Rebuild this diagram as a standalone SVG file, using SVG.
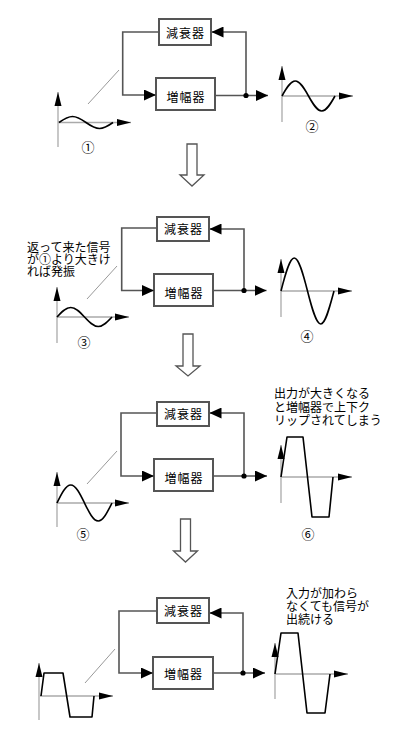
<svg xmlns="http://www.w3.org/2000/svg" width="404" height="746" viewBox="0 0 404 746">
<style>
text{font-family:"Noto Sans CJK JP","Noto Sans CJK SC",sans-serif;font-size:12px;fill:#000}
.box{fill:#fff;stroke:#555;stroke-width:2}
.bl{text-anchor:middle;letter-spacing:1px}
.num{text-anchor:middle;font-size:13px}
.con{fill:none;stroke:#555;stroke-width:1.6}
.ax{fill:none;stroke:#aaa;stroke-width:1.3}
.wave{fill:none;stroke:#000;stroke-width:1.6;stroke-linejoin:round}
.diag{stroke:#999;stroke-width:1}
.down{fill:#fff;stroke:#555;stroke-width:1.3}
.dot{fill:#000}
</style>
<defs>
<marker id="arr" markerUnits="userSpaceOnUse" markerWidth="12" markerHeight="11" refX="12" refY="5.5" orient="auto"><path d="M0,0 L12,5.5 L0,11 z" fill="#000"/></marker>
<marker id="axa" markerUnits="userSpaceOnUse" markerWidth="14" markerHeight="8" refX="14" refY="4" orient="auto"><path d="M0,0.5 L14,4 L0,7.5 z" fill="#000"/></marker>
</defs>

<!-- Section 1 -->
<g id="s1-att"><rect class="box" x="159" y="19" width="52" height="26"/><text class="bl" x="185.5" y="37.5">減衰器</text></g>
<g id="s1-amp"><rect class="box" x="156" y="78" width="59" height="32"/><text class="bl" x="186" y="101.5">増幅器</text></g>
<g id="s1-conn">
<path class="con" d="M159,32 H122.7 V95 H156" marker-end="url(#arr)"/>
<path class="con" d="M215,95.5 H268" marker-end="url(#arr)"/>
<path class="con" d="M246,95.5 V32 H211.5" marker-end="url(#arr)"/>
<circle class="dot" cx="246" cy="95.5" r="2.6"/>
<line class="diag" x1="88" y1="104" x2="119" y2="70"/>
</g>
<g id="w1">
<line class="ax" x1="58" y1="147" x2="58" y2="92" marker-end="url(#axa)"/>
<line class="ax" x1="58" y1="122.5" x2="131" y2="122.5" marker-end="url(#axa)"/>
<path class="wave" d="M59,122.5 C63.4,119.4 67.6,116.5 72.5,116.5 S81.6,119.4 86,122.5 S94.6,128.5 99.5,128.5 S108.6,125.6 113,122.5"/>
<text class="num" x="88" y="152">①</text>
</g>
<g id="w2">
<line class="ax" x1="282" y1="122" x2="282" y2="66" marker-end="url(#axa)"/>
<line class="ax" x1="282" y1="96" x2="353" y2="96" marker-end="url(#axa)"/>
<path class="wave" d="M282,96 C286.3,88.3 290.5,81 295.25,81 S304.2,88.3 308.5,96 S317,111 321.75,111 S330.7,103.7 335,96"/>
<text class="num" x="312" y="130.5">②</text>
</g>
<polygon id="down1" class="down" points="187,144 197,144 197,175 204,175 192,186 180,175 187,175"/>

<!-- Section 2 -->
<g id="s2-att"><rect class="box" x="157" y="217" width="52" height="24"/><text class="bl" x="183.5" y="233.5">減衰器</text></g>
<g id="s2-amp"><rect class="box" x="154" y="274" width="59" height="32"/><text class="bl" x="184" y="297.5">増幅器</text></g>
<g id="s2-conn">
<path class="con" d="M157,228 H121.7 V290.5 H154" marker-end="url(#arr)"/>
<path class="con" d="M213,290.5 H266.5" marker-end="url(#arr)"/>
<path class="con" d="M244,290.5 V229 H209.5" marker-end="url(#arr)"/>
<circle class="dot" cx="244" cy="290.5" r="2.6"/>
<line class="diag" x1="87" y1="299" x2="117" y2="266"/>
</g>
<g id="note1">
<text><tspan x="27" y="252">返って来た信号</tspan><tspan x="27" y="264">が①より大きけ</tspan><tspan x="27" y="276">れば発振</tspan></text>
</g>
<g id="w3">
<line class="ax" x1="57" y1="343" x2="57" y2="287" marker-end="url(#axa)"/>
<line class="ax" x1="57" y1="317" x2="129" y2="317" marker-end="url(#axa)"/>
<path class="wave" d="M57,317 C61.5,312.1 65.8,307.5 70.75,307.5 S80,312.1 84.5,317 S93.3,326.5 98.25,326.5 S107.5,321.9 112,317"/>
<text class="num" x="84" y="346.5">③</text>
</g>
<g id="w4">
<line class="ax" x1="281" y1="317" x2="281" y2="259" marker-end="url(#axa)"/>
<line class="ax" x1="281" y1="291" x2="352" y2="291" marker-end="url(#axa)"/>
<path class="wave" d="M281,291 C285.3,274.1 289.5,258 294.25,258 S303.2,274.1 307.5,291 S316,324 320.75,324 S329.7,307.1 334,291"/>
<text class="num" x="307" y="340.5">④</text>
</g>
<polygon id="down2" class="down" points="183,334 193,334 193,366 200,366 188,376 176,366 183,366"/>

<!-- Section 3 -->
<g id="s3-att"><rect class="box" x="157" y="402" width="52" height="24"/><text class="bl" x="183.5" y="419">減衰器</text></g>
<g id="s3-amp"><rect class="box" x="154" y="459" width="59" height="32"/><text class="bl" x="184" y="482.5">増幅器</text></g>
<g id="s3-conn">
<path class="con" d="M157,413 H121 V476 H154" marker-end="url(#arr)"/>
<path class="con" d="M213,476 H267" marker-end="url(#arr)"/>
<path class="con" d="M244,476 V413 H209.5" marker-end="url(#arr)"/>
<circle class="dot" cx="244" cy="476" r="2.6"/>
<line class="diag" x1="87" y1="484" x2="117" y2="451"/>
</g>
<g id="note2">
<text><tspan x="274" y="398">出力が大きくなる</tspan><tspan x="274" y="411.5">と増幅器で上下ク</tspan><tspan x="274" y="425">リップされてしまう</tspan></text>
</g>
<g id="w5">
<line class="ax" x1="57" y1="527" x2="57" y2="472" marker-end="url(#axa)"/>
<line class="ax" x1="57" y1="503" x2="129" y2="503" marker-end="url(#axa)"/>
<path class="wave" d="M57,503 C61.5,493.8 65.8,485 70.75,485 S80,493.8 84.5,503 S93.3,521 98.25,521 S107.5,511.8 112,503"/>
<text class="num" x="83" y="538.5">⑤</text>
</g>
<g id="w6">
<line class="ax" x1="281" y1="503" x2="281" y2="445" marker-end="url(#axa)"/>
<line class="ax" x1="281" y1="477" x2="352" y2="477" marker-end="url(#axa)"/>
<path class="wave" d="M281,477 L287,437 L303,437 L312,517 L329,517 L333,477"/>
<text class="num" x="308" y="538.5">⑥</text>
</g>
<polygon id="down3" class="down" points="180.5,519 190.5,519 190.5,551 197.5,551 185.5,562 173.5,551 180.5,551"/>

<!-- Section 4 -->
<g id="s4-att"><rect class="box" x="157" y="598" width="52" height="25"/><text class="bl" x="183.5" y="616">減衰器</text></g>
<g id="s4-amp"><rect class="box" x="153" y="657" width="60" height="32"/><text class="bl" x="183.5" y="679">増幅器</text></g>
<g id="s4-conn">
<path class="con" d="M157,611 H119 V673 H153" marker-end="url(#arr)"/>
<path class="con" d="M213,673 H265" marker-end="url(#arr)"/>
<path class="con" d="M243,673 V613 H209.5" marker-end="url(#arr)"/>
<circle class="dot" cx="243" cy="673" r="2.6"/>
<line class="diag" x1="85" y1="683" x2="115" y2="649"/>
</g>
<g id="note3">
<text><tspan x="286" y="598">入力が加わら</tspan><tspan x="286" y="611">なくても信号が</tspan><tspan x="286" y="624">出続ける</tspan></text>
</g>
<g id="w7">
<line class="ax" x1="39" y1="720" x2="39" y2="663" marker-end="url(#axa)"/>
<line class="ax" x1="40" y1="696" x2="113" y2="696" marker-end="url(#axa)"/>
<path class="wave" d="M41,696 L44,673 L63,673 L70,717 L92,717 L94,696"/>
</g>
<g id="w8">
<line class="ax" x1="275" y1="699" x2="275" y2="643" marker-end="url(#axa)"/>
<line class="ax" x1="275" y1="674" x2="348" y2="674" marker-end="url(#axa)"/>
<path class="wave" d="M275,674 L281,633 L298,633 L307,713 L325,713 L330,674"/>
</g>
</svg>
